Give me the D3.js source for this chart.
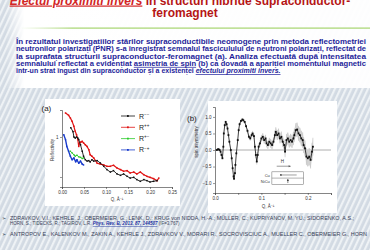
<!DOCTYPE html>
<html>
<head>
<meta charset="utf-8">
<script src="https://cdn.jsdelivr.net/npm/d3@7"></script>
<style>
  body { margin: 0; }
  svg { display: block; font-family: "Liberation Sans", Arial, sans-serif; }
</style>
</head>
<body>
<script>
// ---- data ----
// panel (a): polarised neutron reflectivity
const qPP = [0.008,0.015,0.019,0.023,0.027,0.030,0.033,0.036,0.038,0.040,0.043,0.046,0.049,0.053,0.057,0.061,0.064,0.068,0.072,0.080,0.087,0.095,0.102,0.110,0.117,0.125,0.133,0.140,0.148,0.155,0.163,0.170,0.178,0.186,0.193,0.200,0.208,0.216,0.220];
const rPP = [3.98,3.48,2.98,2.46,1.85,1.39,1.14,0.86,0.58,0.71,0.75,0.78,0.71,0.64,0.58,0.48,0.36,0.33,0.30,0.22,0.21,0.20,0.185,0.185,0.196,0.168,0.153,0.139,0.144,0.126,0.133,0.119,0.133,0.114,0.104,0.098,0.091,0.081,0.094];
const qMM = [0.020,0.025,0.027,0.030,0.033,0.036,0.038,0.042,0.046,0.049,0.053,0.057,0.061,0.064,0.068,0.072,0.080,0.087,0.095,0.102,0.110,0.117,0.125,0.133,0.140,0.148,0.155,0.163,0.170,0.178,0.186,0.193,0.200,0.208,0.216];
const rMM = [1.70,1.36,1.00,0.94,1.00,0.94,0.86,0.64,0.44,0.33,0.27,0.25,0.256,0.237,0.27,0.25,0.256,0.224,0.185,0.153,0.133,0.144,0.119,0.110,0.119,0.104,0.094,0.098,0.086,0.078,0.086,0.081,0.075,0.078,0.081];
const qPM = [0.019,0.023,0.027,0.030,0.034,0.038,0.042,0.046,0.049];
const rPM = [0.44,0.40,0.36,0.33,0.35,0.32,0.31,0.29,0.30];
const qMP = [0.004,0.008,0.011,0.015,0.019,0.023,0.027,0.031,0.034,0.038,0.042,0.046,0.049];
const rMP = [1.14,0.86,0.58,0.44,0.33,0.27,0.30,0.24,0.27,0.22,0.25,0.21,0.20];
const legendNames = ["−−", "++", "+−", "−+"];
const legendColors = ["#111111", "#e01414", "#2ccc2c", "#1a3ccc"];

// panel (b): spin asymmetry
const qAsym = [0.004,0.006,0.008,0.010,0.012,0.014,0.016,0.018,0.019,0.021,0.023,0.025,0.027,0.029,0.031,0.034,0.036,0.038,0.040,0.041,0.043,0.044,0.046,0.049,0.051,0.053,0.056,0.059,0.061,0.064,0.067,0.070,0.073,0.076,0.079,0.081,0.084,0.086,0.088,0.090,0.092,0.094,0.097,0.100,0.103,0.106,0.109,0.111,0.114,0.117,0.120,0.123,0.126,0.129,0.131,0.134,0.137,0.140,0.143,0.146,0.149,0.151,0.154,0.157,0.160,0.163,0.166,0.169,0.171,0.174,0.177,0.180,0.183,0.186,0.189,0.191,0.194,0.197,0.200,0.203,0.206,0.209,0.211];
const asym = [0.0,0.02,0.02,0.0,-0.05,-0.15,-0.25,0.1,0.5,0.75,0.85,0.78,0.65,0.45,0.25,0.0,-0.25,-0.55,-0.8,-0.87,-0.7,-0.45,-0.1,0.3,0.6,0.78,0.88,0.92,0.9,0.85,0.72,0.58,0.4,0.35,0.45,0.5,0.42,0.1,-0.15,-0.35,-0.15,0.1,0.2,0.35,0.4,0.3,0.35,0.2,0.15,0.25,0.2,0.15,0.25,0.45,0.55,0.45,0.5,0.35,0.4,0.25,0.15,-0.05,0.3,0.35,0.25,0.3,0.25,0.35,0.45,0.6,0.62,0.5,0.45,0.35,0.3,0.15,0.05,-0.2,-0.25,-0.2,-0.3,-0.05,0.1];
const asymErr = [0.03,0.03,0.03,0.03,0.03,0.03,0.03,0.03,0.04,0.04,0.04,0.04,0.04,0.04,0.04,0.04,0.04,0.04,0.04,0.04,0.04,0.04,0.04,0.04,0.05,0.05,0.05,0.05,0.05,0.05,0.05,0.06,0.06,0.07,0.07,0.08,0.08,0.08,0.09,0.09,0.09,0.1,0.1,0.1,0.11,0.11,0.11,0.12,0.12,0.12,0.13,0.13,0.13,0.14,0.14,0.15,0.15,0.15,0.16,0.16,0.17,0.17,0.18,0.18,0.18,0.19,0.19,0.2,0.2,0.21,0.21,0.22,0.22,0.23,0.23,0.24,0.24,0.25,0.25,0.26,0.26,0.27,0.27];

// texts
const titleLine1a = "Efectul proximiti invers";
const titleLine1b = " în structuri hibride supraconductor-";
const titleLine2 = "feromagnet";
const paragraph = [
  [["În rezultatul investigațiilor stărilor supraconductibile neomogene prin metoda reflectometriei", ""]],
  [["neutronilor polarizați (PNR) s-a înregistrat semnalul fasciculului de neutroni polarizați, reflectat de", ""]],
  [["la suprafața structurii supraconductor-feromagnet (a). Analiza efectuată după intensitatea", ""]],
  [["semnalului reflectat a evidențiat ", ""], ["asimetria de spin", "u"], [" (b) ca dovadă a apariției momentului magnetic", ""]],
  [["într-un strat îngust din supraconductor și a existenței ", ""], ["efectului proximiti invers.", "iu"]]
];
const references = [
  [["ZDRAVKOV, V.I.;  KEHRLE, J.; OBERMEIER, G.;  LENK, D.; KRUG von NIDDA, H.-A.;  MÜLLER, C.; KUPRIYANOV, M. YU.; SIDORENKO, A.S.;", ""]],
  [["HORN, S.; TIDECKS, R.; TAGIROV, L.R. ", ""], ["Phys. Rev. B, 2013, 87, 144507", "link"], [" (IF=3.767)", ""]],
  [["ANTROPOV E., KALENKOV M., ZAKIN A., KEHRLE J., ZDRAVKOV V., MORARI R., SOCROVISCIUC A., MUELLER C., OBERMEIER G., HORN", ""]]
];

// ---- canvas ----
const W = 370, H = 250;
const svg = d3.select("body").append("svg").attr("width", W).attr("height", H);
const defs = svg.append("defs");

const pat = defs.append("pattern").attr("id", "stripes")
  .attr("width", 5).attr("height", 5)
  .attr("patternUnits", "userSpaceOnUse")
  .attr("patternTransform", "rotate(25)");
pat.append("rect").attr("width", 5).attr("height", 5).attr("fill", "#d2dae3");
pat.append("rect").attr("width", 2.2).attr("height", 5).attr("fill", "#eef2f5");

const topGrad = defs.append("linearGradient").attr("id", "topfade").attr("x1", 0).attr("x2", 1);
topGrad.append("stop").attr("offset", "0").attr("stop-color", "#fff").attr("stop-opacity", 0);
topGrad.append("stop").attr("offset", "0.05").attr("stop-color", "#fff").attr("stop-opacity", 1);
topGrad.append("stop").attr("offset", "1").attr("stop-color", "#fff").attr("stop-opacity", 0.95);

const lineGrad = defs.append("linearGradient").attr("id", "greenline").attr("x1", 0).attr("x2", 1);
lineGrad.append("stop").attr("offset", "0").attr("stop-color", "#b5dc8a").attr("stop-opacity", 0);
lineGrad.append("stop").attr("offset", "0.15").attr("stop-color", "#a6d56f");
lineGrad.append("stop").attr("offset", "1").attr("stop-color", "#a6d56f");

svg.append("rect").attr("width", W).attr("height", H).attr("fill", "url(#stripes)");
svg.append("rect").attr("x", 6).attr("y", 0).attr("width", W - 6).attr("height", 88).attr("fill", "url(#topfade)");
svg.append("rect").attr("x", 20).attr("y", 27.5).attr("width", 350).attr("height", 1.2).attr("fill", "url(#greenline)");

// ---- title ----
const t1 = svg.append("text").attr("x", 180).attr("y", 4.5).attr("text-anchor", "middle")
  .style("font-size", "12px").style("font-weight", "bold");
t1.append("tspan").text(titleLine1a).attr("fill", "#d22525")
  .style("font-style", "italic").style("text-decoration", "underline");
t1.append("tspan").text(titleLine1b).attr("fill", "#b51515");
svg.append("text").attr("x", 185).attr("y", 17).attr("text-anchor", "middle")
  .style("font-size", "12px").style("font-weight", "bold").attr("fill", "#b51515")
  .text(titleLine2);

// ---- paragraph ----
paragraph.forEach(function(parts, i) {
  const t = svg.append("text").attr("x", 16).attr("y", 44 + i * 7.3)
    .style("font-size", "7px").style("font-weight", "bold").attr("fill", "#1e1e9a");
  if (i < paragraph.length - 1) t.attr("textLength", 350).attr("lengthAdjust", "spacingAndGlyphs");
  parts.forEach(function(p) {
    const s = t.append("tspan").text(p[0]);
    if (p[1].includes("u")) s.style("text-decoration", "underline");
    if (p[1].includes("i")) s.style("font-style", "italic");
  });
});

// ---- references ----
references.forEach(function(parts, i) {
  const y = [219.5, 225, 236][i];
  if (i !== 1) {
    svg.append("text").attr("x", 2).attr("y", y).style("font-size", "5px").attr("fill", "#2c3850").text("➢");
  }
  const t = svg.append("text").attr("x", 10).attr("y", y)
    .style("font-size", "4.5px").attr("fill", "#3a4258");
  if (i === 0) t.attr("textLength", 344).attr("lengthAdjust", "spacingAndGlyphs");
  if (i === 2) t.attr("textLength", 357).attr("lengthAdjust", "spacingAndGlyphs");
  parts.forEach(function(p) {
    const s = t.append("tspan").text(p[0]);
    if (p[1] === "link") s.attr("fill", "#1a2fa0").style("font-weight", "bold")
      .style("font-style", "italic").style("text-decoration", "underline");
  });
});

// ---- panel (a) ----
svg.append("rect").attr("x", 45).attr("y", 99).attr("width", 135).attr("height", 107).attr("fill", "#fff");
svg.append("text").attr("x", 41.5).attr("y", 111).style("font-size", "8px").attr("fill", "#222").text("(a)");

const xA = d3.scaleLinear().domain([0, 0.25]).range([62, 172]);
const yA = d3.scaleLog().domain([0.0562, 4.73]).range([187, 110]);

const gA = svg.append("g");
gA.append("g").attr("transform", "translate(0,187)")
  .call(d3.axisBottom(xA).tickValues([0, 0.05, 0.1, 0.15, 0.2, 0.25]).tickFormat(d3.format(".2f")).tickSize(2).tickPadding(1.5));
gA.append("g").attr("transform", "translate(62,0)")
  .call(d3.axisLeft(yA).tickValues([0.1, 1]).tickFormat(function(d) { return d === 1 ? "1" : ""; }).tickSize(2).tickPadding(1.5));
gA.selectAll(".domain").attr("stroke", "#333").attr("stroke-width", 0.6);
gA.selectAll(".tick line").attr("stroke", "#333").attr("stroke-width", 0.5);
gA.selectAll(".tick text").style("font-size", "4.5px").attr("fill", "#333");

gA.append("text").attr("x", 117).attr("y", 201).attr("text-anchor", "middle")
  .style("font-size", "4.5px").attr("fill", "#333").text("Q, Å⁻¹");
gA.append("text").attr("transform", "translate(54,150) rotate(-90)").attr("text-anchor", "middle")
  .style("font-size", "4.5px").attr("fill", "#333").text("Reflectivity");

function drawSeries(g, qs, rs, color, width, marker) {
  const pts = qs.map(function(q, i) { return [xA(q), yA(rs[i])]; });
  g.append("path").attr("d", d3.line()(pts)).attr("fill", "none")
    .attr("stroke", color).attr("stroke-width", width).attr("stroke-linejoin", "round");
  g.selectAll(null).data(pts).enter().append("rect")
    .attr("x", function(d) { return d[0] - marker / 2; })
    .attr("y", function(d) { return d[1] - marker / 2; })
    .attr("width", marker).attr("height", marker).attr("fill", color);
}
drawSeries(gA, qMP, rMP, legendColors[3], 1.4, 1.4);
drawSeries(gA, qPM, rPM, legendColors[2], 1.0, 1.4);
drawSeries(gA, qPP, rPP, legendColors[1], 1.2, 1.5);
drawSeries(gA, qMM, rMM, legendColors[0], 0.9, 1.5);

const legA = gA.append("g");
legendNames.forEach(function(name, i) {
  const y = 116 + i * 11.3;
  legA.append("line").attr("x1", 121).attr("x2", 135).attr("y1", y).attr("y2", y)
    .attr("stroke", legendColors[i]).attr("stroke-width", 0.8);
  legA.append("rect").attr("x", 127).attr("y", y - 0.9).attr("width", 1.8).attr("height", 1.8).attr("fill", legendColors[i]);
  const t = legA.append("text").attr("x", 139).attr("y", y + 2.5).style("font-size", "7px").attr("fill", "#222");
  t.append("tspan").text("R");
  t.append("tspan").text(name).attr("dy", -2.8).style("font-size", "4.5px");
});

// ---- panel (b) ----
svg.append("rect").attr("x", 208).attr("y", 101).attr("width", 129).attr("height", 112).attr("fill", "#fff");
svg.append("text").attr("x", 187).attr("y", 121).style("font-size", "8px").attr("fill", "#222").text("(b)");

const xB = d3.scaleLinear().domain([0, 0.25]).range([215, 331]);
const yB = d3.scaleLinear().domain([-1.3, 1.3]).range([193, 107]);

const gB = svg.append("g");
gB.append("line").attr("x1", xB(0)).attr("x2", xB(0.25)).attr("y1", yB(0)).attr("y2", yB(0))
  .attr("stroke", "#9a9a9a").attr("stroke-width", 0.8);

const band = d3.area()
  .x(function(d, i) { return xB(qAsym[i]); })
  .y0(function(d, i) { return yB(asym[i] - asymErr[i]); })
  .y1(function(d, i) { return yB(asym[i] + asymErr[i]); });
gB.append("path").attr("d", band(asym)).attr("fill", "#e4e4e4");

gB.selectAll(null).data(asym).enter().append("line")
  .attr("x1", function(d, i) { return xB(qAsym[i]); })
  .attr("x2", function(d, i) { return xB(qAsym[i]); })
  .attr("y1", function(d, i) { return yB(d - asymErr[i]); })
  .attr("y2", function(d, i) { return yB(d + asymErr[i]); })
  .attr("stroke", "#a0a0a0").attr("stroke-width", 0.4);

gB.append("path")
  .attr("d", d3.line().x(function(d, i) { return xB(qAsym[i]); }).y(function(d) { return yB(d); })(asym))
  .attr("fill", "none").attr("stroke", "#111").attr("stroke-width", 0.8);
gB.selectAll(null).data(asym).enter().append("rect")
  .attr("x", function(d, i) { return xB(qAsym[i]) - 0.9; })
  .attr("y", function(d) { return yB(d) - 0.9; })
  .attr("width", 1.8).attr("height", 1.8).attr("fill", "#111");

gB.append("g").attr("transform", "translate(0,193)")
  .call(d3.axisBottom(xB).tickValues([0, 0.05, 0.1, 0.15, 0.2, 0.25])
    .tickFormat(function(d) { return [0, 0.1, 0.2].includes(d) ? d3.format(".1f")(d) : ""; })
    .tickSize(2).tickPadding(1.5));
gB.append("g").attr("transform", "translate(215,0)")
  .call(d3.axisLeft(yB).tickValues([-1, -0.5, 0, 0.5, 1]).tickFormat(d3.format(".1f")).tickSize(2).tickPadding(1.5));
gB.selectAll(".domain").attr("stroke", "#333").attr("stroke-width", 0.6);
gB.selectAll(".tick line").attr("stroke", "#333").attr("stroke-width", 0.5);
gB.selectAll(".tick text").style("font-size", "4.5px").attr("fill", "#333");

gB.append("text").attr("x", 268).attr("y", 208).attr("text-anchor", "middle")
  .style("font-size", "4.5px").attr("fill", "#333").text("Q, Å⁻¹");
gB.append("text").attr("transform", "translate(198,142) rotate(-90)").attr("text-anchor", "middle")
  .style("font-size", "4.5px").attr("fill", "#333").text("spin asymmetry");

// inset sketch: field direction and layer magnetisation
const inset = gB.append("g");
inset.append("text").attr("x", xB(0.145)).attr("y", yB(-0.38)).attr("text-anchor", "middle")
  .style("font-size", "4.5px").attr("fill", "#333").text("H");
inset.append("line").attr("x1", xB(0.133)).attr("x2", xB(0.163)).attr("y1", yB(-0.49)).attr("y2", yB(-0.49))
  .attr("stroke", "#555").attr("stroke-width", 0.6);
inset.append("path").attr("d", "M" + xB(0.163) + "," + yB(-0.49) + "l-2,-1v2z").attr("fill", "#555");
inset.append("rect").attr("x", xB(0.1226)).attr("y", yB(-0.66)).attr("width", xB(0.191) - xB(0.1226))
  .attr("height", yB(-1.05) - yB(-0.66)).attr("fill", "#fff").attr("stroke", "#666").attr("stroke-width", 0.5);
inset.append("line").attr("x1", xB(0.1226)).attr("x2", xB(0.191)).attr("y1", yB(-0.85)).attr("y2", yB(-0.85))
  .attr("stroke", "#666").attr("stroke-width", 0.5);
inset.append("text").attr("x", xB(0.118)).attr("y", yB(-0.76) + 1.5).attr("text-anchor", "end")
  .style("font-size", "4px").attr("fill", "#333").text("Cu");
inset.append("text").attr("x", xB(0.118)).attr("y", yB(-0.95) + 1.5).attr("text-anchor", "end")
  .style("font-size", "4px").attr("fill", "#333").text("NiCu");
inset.append("line").attr("x1", xB(0.142)).attr("x2", xB(0.176)).attr("y1", yB(-0.755)).attr("y2", yB(-0.755))
  .attr("stroke", "#777").attr("stroke-width", 0.7);
inset.append("circle").attr("cx", xB(0.142)).attr("cy", yB(-0.755)).attr("r", 0.9).attr("fill", "#444");
inset.append("line").attr("x1", xB(0.157)).attr("x2", xB(0.157)).attr("y1", yB(-1.0)).attr("y2", yB(-0.88))
  .attr("stroke", "#333").attr("stroke-width", 0.6);
inset.append("path").attr("d", "M" + xB(0.157) + "," + yB(-0.88) + "l-1,2h2z").attr("fill", "#333");
</script>
</body>
</html>
